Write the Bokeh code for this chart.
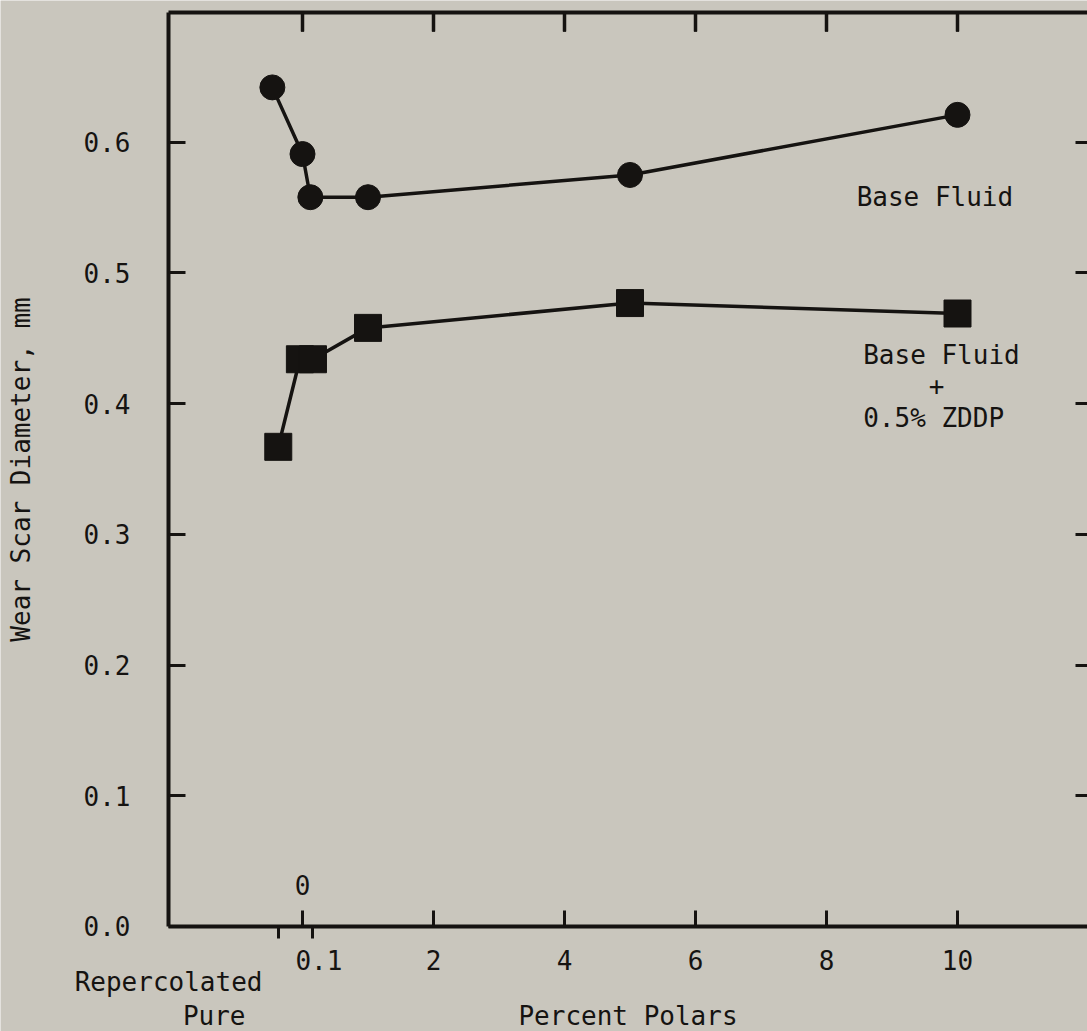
from bokeh.plotting import figure
from bokeh.models import LinearAxis, FixedTicker, PrintfTickFormatter, Range1d
from bokeh.core.properties import value
from bokeh.embed import file_html
from bokeh.resources import INLINE

# ---- data ----
base_x = [-0.46, 0.0, 0.12, 1.0, 5.0, 10.0]
base_y = [0.642, 0.591, 0.558, 0.558, 0.575, 0.621]
zddp_x = [-0.37, -0.04, 0.16, 1.0, 5.0, 10.0]
zddp_y = [0.367, 0.434, 0.434, 0.458, 0.477, 0.469]

x_tick_inner = [0, 2, 4, 6, 8, 10]
x_tick_outer = [-0.37, 0.15]
x_label_pos = [0.25, 2, 4, 6, 8, 10]
x_label_txt = ["0.1", "2", "4", "6", "8", "10"]
y_ticks = [0.0, 0.1, 0.2, 0.3, 0.4, 0.5, 0.6]

pure_label_lines = ["Repercolated", "Pure"]
pure_label_x = [-0.611, -0.870]
pure_label_y = [-0.0428, -0.0681]

series_labels = ["Base Fluid", "Base Fluid", "+", "0.5% ZDDP"]
series_label_x = [8.46, 8.56, 9.68, 8.56]
series_label_y = [0.558, 0.437, 0.414, 0.389]
series_label_align = ["left", "left", "center", "left"]

# plotting box (data units): left edge, right edge, top edge
X_LEFT, X_RIGHT, Y_TOP = -2.0458, 11.9847, 0.6993
TOP_TICK_LEN = 0.0145  # about 19 px in y data units

BG = "#c9c6bd"
INK = "#151311"
FONT = "DejaVu Sans Mono"
FS = "26px"

p = figure(width=1087, height=1031, output_backend="svg", toolbar_location=None,
           x_range=Range1d(-4.6107, 11.9847), y_range=Range1d(-0.08034, 0.70849),
           min_border=0, min_border_left=0, min_border_right=0, min_border_top=0,
           min_border_bottom=0, x_axis_location=None, y_axis_location=None)
p.background_fill_color = BG
p.border_fill_color = BG
p.outline_line_color = None
p.xgrid.visible = False
p.ygrid.visible = False

def style(ax):
    ax.axis_line_color = INK
    ax.axis_line_width = 4
    ax.major_tick_line_color = INK
    ax.major_tick_line_width = 3
    ax.minor_tick_line_color = INK
    ax.minor_tick_line_width = 3
    ax.major_label_text_font = FONT
    ax.major_label_text_font_size = FS
    ax.major_label_text_color = INK
    ax.axis_label_text_font = FONT
    ax.axis_label_text_font_size = FS
    ax.axis_label_text_font_style = "normal"
    ax.axis_label_text_color = INK

def ticks_only(ax, tin, tout):
    style(ax)
    ax.axis_line_color = None
    ax.major_tick_in = 0
    ax.major_tick_out = 0
    ax.minor_tick_in = tin
    ax.minor_tick_out = tout
    ax.major_label_standoff = 0

# bottom axis: line and labels
xb = LinearAxis(ticker=FixedTicker(ticks=x_label_pos), axis_label="Percent Polars",
                fixed_location=0, bounds=(X_LEFT, X_RIGHT))
style(xb)
xb.major_tick_in = 0
xb.major_tick_out = 0
xb.major_tick_line_color = None
xb.major_label_standoff = 24
xb.axis_label_standoff = 27
xb.major_label_overrides = {pos: txt for pos, txt in zip(x_label_pos, x_label_txt)}
p.add_layout(xb, "below")

# outward ticks under the bottom line (Repercolated Pure, 0.1)
xo = LinearAxis(ticker=FixedTicker(ticks=[], minor_ticks=x_tick_outer), fixed_location=0)
ticks_only(xo, 0, 12)
p.add_layout(xo, "below")

# inward ticks on the bottom line, with the "0" label inside the box
x0 = LinearAxis(ticker=FixedTicker(ticks=[0], minor_ticks=x_tick_inner[1:]), fixed_location=0)
style(x0)
x0.axis_line_color = None
x0.major_tick_in = 0
x0.major_tick_out = 16
x0.minor_tick_in = 0
x0.minor_tick_out = 16
x0.major_label_standoff = 15
p.add_layout(x0, "above")

# top line of the box
xt = LinearAxis(ticker=FixedTicker(ticks=[]), fixed_location=Y_TOP, bounds=(X_LEFT, X_RIGHT))
style(xt)
xt.major_tick_in = 0
xt.major_tick_out = 0
xt.major_label_standoff = 0
p.add_layout(xt, "below")

# downward (inward) ticks from the top line
xtt = LinearAxis(ticker=FixedTicker(ticks=[], minor_ticks=x_tick_inner), fixed_location=Y_TOP)
ticks_only(xtt, 0, 19)
p.add_layout(xtt, "below")
xta = LinearAxis(ticker=FixedTicker(ticks=[], minor_ticks=x_tick_inner), fixed_location=Y_TOP)
ticks_only(xta, 19, 0)
p.add_layout(xta, "above")
p.segment(x0=x_tick_inner, y0=[Y_TOP] * len(x_tick_inner),
          x1=x_tick_inner, y1=[Y_TOP - TOP_TICK_LEN] * len(x_tick_inner),
          line_color=INK, line_width=3.5, level="overlay")

# left axis
yl = LinearAxis(ticker=FixedTicker(ticks=y_ticks), formatter=PrintfTickFormatter(format="%.1f"),
                axis_label="Wear Scar Diameter, mm", fixed_location=X_LEFT, bounds=(0, Y_TOP))
style(yl)
yl.major_tick_in = 17
yl.major_tick_out = 0
yl.major_label_standoff = 38
yl.axis_label_standoff = 45
p.add_layout(yl, "left")

# right axis: inward ticks only
yr = LinearAxis(ticker=FixedTicker(ticks=[], minor_ticks=y_ticks[1:]), fixed_location=X_RIGHT)
ticks_only(yr, 12, 0)
p.add_layout(yr, "right")

# series
p.line(base_x, base_y, line_color=INK, line_width=3.5)
p.scatter(base_x, base_y, marker="circle", size=25, fill_color=INK, line_color=INK)
p.line(zddp_x, zddp_y, line_color=INK, line_width=3.5)
p.scatter(zddp_x, zddp_y, marker="square", size=27, fill_color=INK, line_color=INK)

p.text(x=series_label_x, y=series_label_y, text=series_labels,
       text_align=series_label_align, text_baseline="middle",
       text_font=value(FONT), text_font_size=FS, text_color=INK)

# "Repercolated / Pure" category name under the left end of the x axis
p.text(x=pure_label_x, y=pure_label_y, text=pure_label_lines,
       text_align="right", text_baseline="middle",
       text_font=value(FONT), text_font_size=FS, text_color=INK)

open("out.html", "w").write(file_html(p, INLINE))
